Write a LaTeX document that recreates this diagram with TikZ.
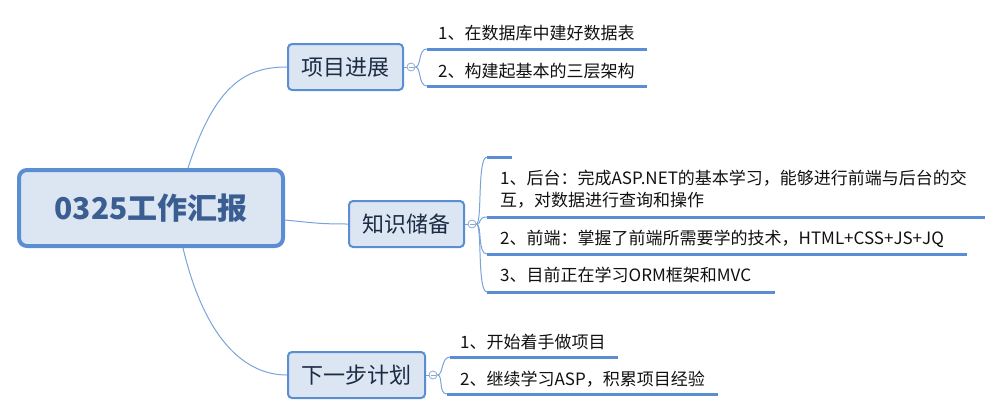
\documentclass[tikz,border=0pt]{standalone}
\usepackage{fontspec}
\setmainfont{Noto Sans CJK SC}
\usetikzlibrary{backgrounds}
\definecolor{fillc}{HTML}{DCE6F2}
\definecolor{bordc}{HTML}{5B8DD3}
\definecolor{connc}{HTML}{7AA3DC}
\definecolor{ulc}{HTML}{5B8DD3}
\definecolor{foldc}{HTML}{8CA8D2}
\definecolor{centertext}{HTML}{3A5E92}
\definecolor{branchtext}{HTML}{1C2B45}
\definecolor{itemtext}{HTML}{111111}
\begin{document}
\begin{tikzpicture}[x=1pt,y=-1pt,
  conn/.style={draw=connc, line width=1pt},
  uline/.style={draw=ulc, line width=3pt},
  branch/.style={draw=bordc, fill=fillc, line width=2pt, rounded corners=4pt,
    minimum width=115pt, minimum height=46pt, inner sep=0pt,
    font=\fontsize{22}{26}\selectfont, text=branchtext},
  fold/.style={circle, draw=foldc, fill=white, line width=0.8pt, minimum size=8pt, inner sep=0pt,
    path picture={\draw[foldc, line width=0.8pt] ([xshift=-2.5pt]path picture bounding box.center) -- ([xshift=2.5pt]path picture bounding box.center);}},
  item/.style={anchor=base west, inner sep=0pt, font=\fontsize{17}{22}\selectfont, text=itemtext}
]
\useasboundingbox (0,0) rectangle (999,416);

% central topic
\node[draw=bordc, fill=fillc, line width=4pt, rounded corners=8pt,
  minimum width=264pt, minimum height=76pt, inner sep=0pt,
  font=\fontsize{30}{36}\selectfont\bfseries, text=centertext] (c) at (151,208) {0325工作汇报};

% main branches
\node[branch] (p1) at (345.5,67) {项目进展};
\node[branch] (p2) at (406.5,224) {知识储备};
\node[branch, minimum width=137pt] (p3) at (356.5,375) {下一步计划};

\begin{pgfonlayer}{background}
\draw[conn] ([xshift=37pt]c.north) .. controls (215,85) and (245,67) .. (p1.west);
\draw[conn] ([yshift=-12pt]c.east) .. controls (315,223) and (320,224) .. (p2.west);
\draw[conn] ([xshift=32pt]c.south) .. controls (205,340) and (245,375) .. (p3.west);
\end{pgfonlayer}

% fold markers
\node[fold] (k1) at (411,67) {};
\node[fold] (k2) at (472,224) {};
\node[fold] (k3) at (433,375) {};
\draw[conn] (p1.east) -- (k1.west);
\draw[conn] (p2.east) -- (k2.west);
\draw[conn] (p3.east) -- (k3.west);

% branch 1 children
\coordinate (u11) at (427,49);
\coordinate (u12) at (427,86);
\draw[uline] (u11) -- ++(220,0);
\draw[uline] (u12) -- ++(220,0);
\draw[conn] (k1.east) .. controls +(6,0) and +(-9,0) .. (u11);
\draw[conn] (k1.east) .. controls +(6,0) and +(-9,0) .. (u12);
\node[item] (t11) at (438,39.5) {1、在数据库中建好数据表};
\node[item] (t12) at (438,77.5) {2、构建起基本的三层架构};

% branch 2 children
\coordinate (u20) at (487,157);
\coordinate (u21) at (487,217);
\coordinate (u22) at (487,254);
\coordinate (u23) at (487,292);
\draw[uline] (u20) -- ++(25,0);
\draw[uline] (u21) -- ++(498,0);
\draw[uline] (u22) -- ++(480,0);
\draw[uline] (u23) -- ++(288,0);
\draw[conn] (k2.east) .. controls +(6,0) and +(-10,0) .. (u20);
\draw[conn] (k2.east) .. controls +(6,0) and +(-10,0) .. (u21);
\draw[conn] (k2.east) .. controls +(6,0) and +(-10,0) .. (u22);
\draw[conn] (k2.east) .. controls +(6,0) and +(-10,0) .. (u23);
\node[item, text width=520pt, align=left] (t21) at (500,184.5) {1、后台：完成ASP.NET的基本学习，能够进行前端与后台的交\\互，对数据进行查询和操作};
\node[item] (t22) at (500,244.5) {2、前端：掌握了前端所需要学的技术，HTML+CSS+JS+JQ};
\node[item] (t23) at (500,281.5) {3、目前正在学习ORM框架和MVC};

% branch 3 children
\coordinate (u31) at (450,357);
\coordinate (u32) at (447,394);
\draw[uline] (u31) -- ++(168,0);
\draw[uline] (u32) -- ++(271,0);
\draw[conn] (k3.east) .. controls +(6,0) and +(-9,0) .. (u31);
\draw[conn] (k3.east) .. controls +(6,0) and +(-9,0) .. (u32);
\node[item] (t31) at (460,348.5) {1、开始着手做项目};
\node[item] (t32) at (460,385.5) {2、继续学习ASP，积累项目经验};
\end{tikzpicture}
\end{document}
